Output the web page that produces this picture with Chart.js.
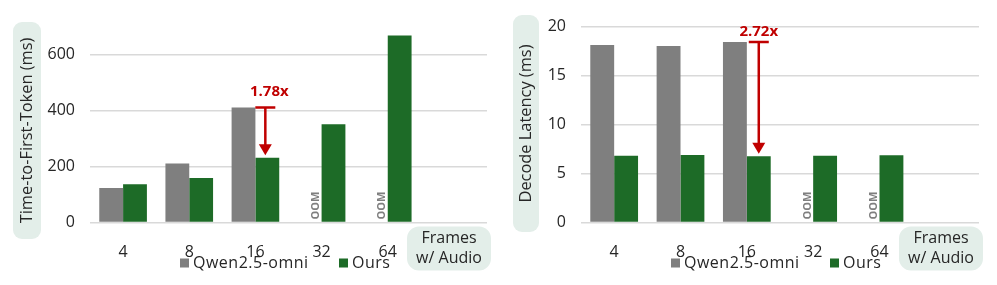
<!DOCTYPE html>
<html>
<head>
<meta charset="utf-8">
<script src="https://cdn.jsdelivr.net/npm/chart.js@4"></script>
<style>
  body { margin: 0; background: #fff; }
  .wrap { position: absolute; top: 0; height: 285px; }
</style>
</head>
<body>
<div class="wrap" style="left:0;width:498px"><canvas id="ttftChart"></canvas></div>
<div class="wrap" style="left:498px;width:499px"><canvas id="decodeChart"></canvas></div>
<script>
// data
const frames = ['4', '8', '16', '32', '64', ''];
const ttftQwen = [123, 211, 411, null, null, null];
const ttftOurs = [137, 159, 231, 351, 668, null];
const decodeQwen = [18.1, 18.0, 18.42, null, null, null];
const decodeOurs = [6.8, 6.9, 6.77, 6.8, 6.85, null];
const ttftTicks = [0, 200, 400, 600];
const decodeTicks = [0, 5, 10, 15, 20];

const GRAY = '#7f7f7f';
const GREEN = '#1d6b27';
const RED = '#c00000';
const BOX = '#e3eee9';
const TEXT = '#262626';

Chart.defaults.font.family = '"Open Sans", sans-serif';

// title boxes, OOM marks, speedup arrow and legend
const extras = {
  id: 'extras',
  beforeDraw(chart, args, opts) {
    const ctx = chart.ctx;
    const a = chart.chartArea;
    const b = opts.titleBox;
    ctx.save();
    ctx.fillStyle = BOX;
    ctx.beginPath();
    ctx.roundRect(b.x, b.y, b.w, b.h, 9);
    ctx.fill();
    // frames box
    const fx = a.right - 80, fy = a.bottom + 4;
    ctx.beginPath();
    ctx.roundRect(fx, fy, 84, 44, 12);
    ctx.fill();
    ctx.fillStyle = TEXT;
    ctx.font = '16px "Open Sans"';
    ctx.textAlign = 'center';
    ctx.textBaseline = 'middle';
    ctx.fillText('Frames', fx + 42, fy + 12);
    ctx.fillText('w/ Audio', fx + 42, fy + 32);
    // y title
    ctx.translate(b.x + b.w / 2, b.y + b.h / 2);
    ctx.rotate(-Math.PI / 2);
    ctx.font = '16.4px "Open Sans"';
    ctx.fillText(opts.title, 0, 0);
    ctx.restore();
  },
  afterDatasetsDraw(chart, args, opts) {
    const ctx = chart.ctx;
    const a = chart.chartArea;
    const d0 = chart.data.datasets[0], d1 = chart.data.datasets[1];
    const m0 = chart.getDatasetMeta(0).data, m1 = chart.getDatasetMeta(1).data;
    ctx.save();

    // OOM labels where the baseline ran out of memory
    ctx.fillStyle = GRAY;
    ctx.font = 'bold 11px "Open Sans"';
    ctx.textAlign = 'left';
    ctx.textBaseline = 'middle';
    d0.data.forEach((v, i) => {
      if (v === null && d1.data[i] !== null) {
        const bar = m1[i];
        ctx.save();
        ctx.translate(bar.x - bar.width / 2 - 5.5, a.bottom - 3);
        ctx.rotate(-Math.PI / 2);
        ctx.fillText('OOM', 0, 0);
        ctx.restore();
      }
    });

    // speedup arrow
    const i = opts.arrowIndex;
    const top = m0[i].y, bot = m1[i].y - 2.5;
    const x = m1[i].x + opts.arrowShift;
    ctx.strokeStyle = RED;
    ctx.fillStyle = RED;
    ctx.lineWidth = 2.5;
    ctx.beginPath();
    ctx.moveTo(x - 10, top);
    ctx.lineTo(x + 10, top);
    ctx.moveTo(x, top);
    ctx.lineTo(x, bot - 9);
    ctx.stroke();
    ctx.beginPath();
    ctx.moveTo(x - 6.5, bot - 11);
    ctx.lineTo(x + 6.5, bot - 11);
    ctx.lineTo(x, bot);
    ctx.closePath();
    ctx.fill();
    const ratio = (d0.data[i] / d1.data[i]).toFixed(2) + 'x';
    ctx.font = 'bold 15px "Open Sans"';
    ctx.textAlign = 'center';
    ctx.fillText(ratio, m1[i].x + opts.textShift, top - opts.textGap);

    // legend
    const ly = 263;
    const lx = [a.left + 90, a.left + 249];
    ctx.font = '16px "Open Sans"';
    ctx.letterSpacing = '0.5px';
    ctx.textAlign = 'left';
    [d0, d1].forEach((ds, k) => {
      ctx.fillStyle = ds.backgroundColor;
      ctx.fillRect(lx[k], ly - 4.5, 9, 9);
      ctx.fillStyle = TEXT;
      ctx.fillText(ds.label, lx[k] + 13, ly);
    });
    ctx.restore();
  }
};

function makeChart(id, qwen, ours, yMax, tickValues, padLeft, padRight, extraOpts) {
  return new Chart(document.getElementById(id), {
    type: 'bar',
    data: {
      labels: frames,
      datasets: [
        { label: 'Qwen2.5-omni', data: qwen, backgroundColor: GRAY },
        { label: 'Ours', data: ours, backgroundColor: GREEN }
      ]
    },
    options: {
      responsive: true,
      maintainAspectRatio: false,
      animation: false,
      layout: { padding: { left: padLeft, right: padRight, top: 26.5, bottom: 0 } },
      datasets: { bar: { categoryPercentage: 0.72, barPercentage: 1.0 } },
      plugins: {
        legend: { display: false },
        tooltip: { enabled: false },
        extras: extraOpts
      },
      scales: {
        x: {
          grid: { display: false },
          border: { display: false },
          ticks: { color: TEXT, font: { size: 16 }, padding: 12, maxRotation: 0 },
          afterFit(scale) { scale.height = 62.5; }
        },
        y: {
          min: 0,
          max: yMax,
          grid: { color: '#d9d9d9', lineWidth: 1.5, drawTicks: false },
          border: { display: false },
          ticks: { color: TEXT, font: { size: 16 }, padding: 15 },
          afterBuildTicks(scale) { scale.ticks = tickValues.map(v => ({ value: v })); },
          afterFit(scale) { scale.width = 46; }
        }
      }
    },
    plugins: [extras]
  });
}

makeChart('ttftChart', ttftQwen, ttftOurs, 700, ttftTicks, 44, 11, {
  title: 'Time-to-First-Token (ms)',
  titleBox: { x: 13, y: 22, w: 28, h: 217 },
  arrowIndex: 2, arrowShift: -2, textShift: 2, textGap: 16
});

makeChart('decodeChart', decodeQwen, decodeOurs, 20, decodeTicks, 37, 18, {
  title: 'Decode Latency (ms)',
  titleBox: { x: 15, y: 15, w: 26, h: 217 },
  arrowIndex: 2, arrowShift: 0, textShift: 0, textGap: 10
});
</script>
</body>
</html>
